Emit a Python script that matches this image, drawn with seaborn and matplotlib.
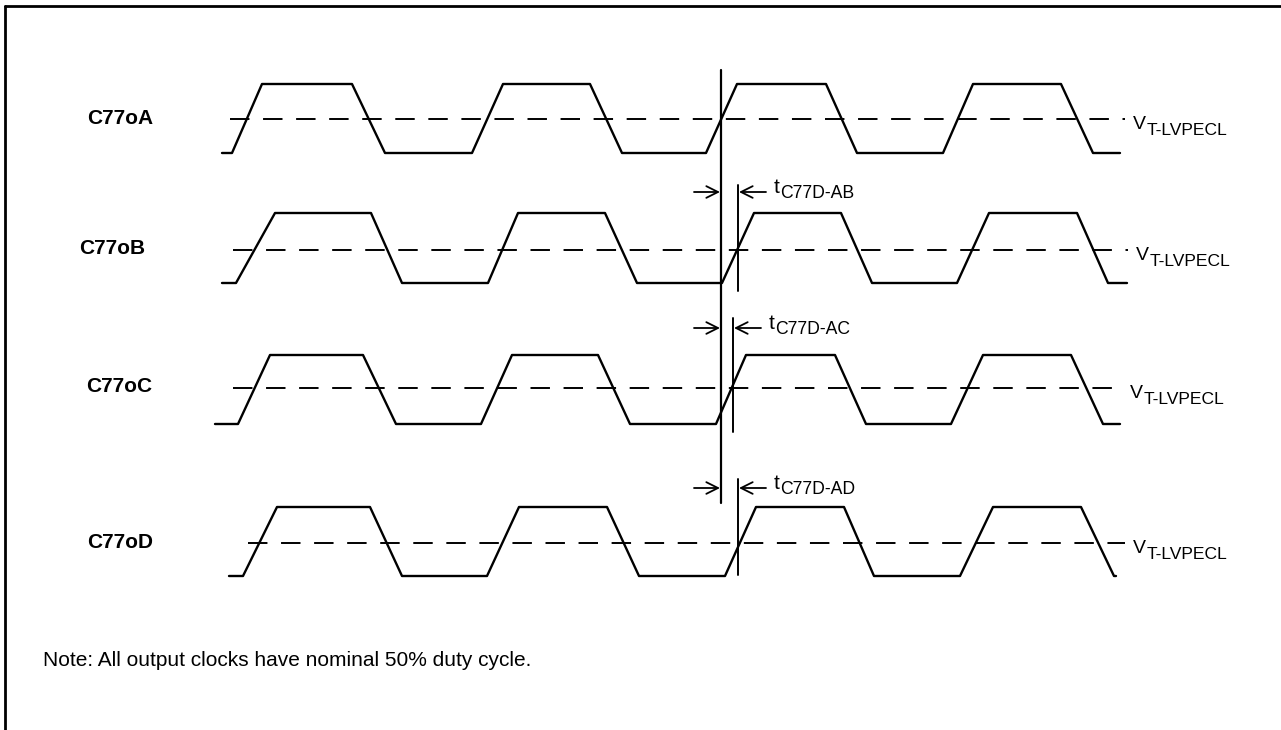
import numpy as np
import pandas as pd
import matplotlib
matplotlib.use('Agg')
import matplotlib.pyplot as plt
import seaborn as sns

# waveform data: vertex x positions for each output clock (pattern L L H H L L ...)
channels = ['C77oA', 'C77oB', 'C77oC', 'C77oD']
edges = {
    'C77oA': [222, 232, 262, 352, 385, 472, 503, 590, 622, 706, 737, 826, 857, 943, 973, 1061, 1093, 1120],
    'C77oB': [222, 236, 275, 371, 402, 488, 518, 605, 637, 722, 754, 841, 872, 957, 989, 1077, 1108, 1127],
    'C77oC': [215, 238, 270, 363, 396, 481, 512, 598, 630, 716, 746, 835, 866, 951, 983, 1071, 1103, 1120],
    'C77oD': [229, 243, 277, 370, 402, 487, 519, 607, 639, 725, 756, 844, 874, 960, 993, 1081, 1114, 1116],
}
high_level = [84, 213, 355, 507]
low_level = [153, 283, 424, 576]
threshold = [119, 250, 388, 543]
thresh_start = [230, 233, 233, 248]
thresh_end = [1125, 1128, 1122, 1125]
label_x = [87, 79, 86, 87]

# skew markers
ref_x, ref_top, ref_bottom = 721, 70, 503
skew_x = [738, 733, 738]
skew_top = [185, 318, 479]
skew_bottom = [291, 432, 575]
skew_arrow_y = [192, 328, 488]
skew_names = ['C77D-AB', 'C77D-AC', 'C77D-AD']

note = 'Note: All output clocks have nominal 50% duty cycle.'

rows = []
for i, ch in enumerate(channels):
    for k, x in enumerate(edges[ch]):
        state = (k // 2) % 2  # 0 low, 1 high
        rows.append({'channel': ch, 'x': x, 'y': high_level[i] if state else low_level[i]})
df = pd.DataFrame(rows)

sns.set_theme(style='white')
plt.rcParams['font.family'] = ['Liberation Sans', 'DejaVu Sans']
plt.rcParams['text.color'] = 'black'

fig = plt.figure(figsize=(12.81, 7.30), dpi=100)
ax = fig.add_axes([0, 0, 1, 1])
ax.set_xlim(0, 1281)
ax.set_ylim(730, 0)
ax.axis('off')

sns.lineplot(data=df, x='x', y='y', units='channel', estimator=None, sort=False,
             color='black', linewidth=1.7, ax=ax, legend=False)

for i, ch in enumerate(channels):
    ax.plot([thresh_start[i], thresh_end[i]], [threshold[i]] * 2, color='black',
            linewidth=1.4, dashes=(10, 7))
    ax.text(label_x[i], threshold[i] - 1, ch, fontsize=15, fontweight='bold',
            ha='left', va='center', color='black')
    ax.text(thresh_end[i] + 8, threshold[i] + 10, 'V', fontsize=14, ha='left', va='baseline', color='black')
    ax.text(thresh_end[i] + 22, threshold[i] + 16, 'T-LVPECL', fontsize=12.6, ha='left', va='baseline',
            color='black')

ax.plot([ref_x, ref_x], [ref_top, ref_bottom], color='black', linewidth=1.6)
for j in range(3):
    ax.plot([skew_x[j], skew_x[j]], [skew_top[j], skew_bottom[j]], color='black', linewidth=1.4)
    ay = skew_arrow_y[j]
    ax.annotate('', xy=(ref_x - 1, ay), xytext=(ref_x - 27, ay),
                arrowprops=dict(arrowstyle='->,head_length=0.7,head_width=0.35', color='black', lw=1.3,
                                shrinkA=0, shrinkB=0))
    ax.annotate('', xy=(skew_x[j] + 1, ay), xytext=(skew_x[j] + 28, ay),
                arrowprops=dict(arrowstyle='->,head_length=0.7,head_width=0.35', color='black', lw=1.3,
                                shrinkA=0, shrinkB=0))
    ax.text(skew_x[j] + 36, ay + 1, 't', fontsize=15, ha='left', va='baseline', color='black')
    ax.text(skew_x[j] + 42, ay + 6, skew_names[j], fontsize=12.7, ha='left', va='baseline', color='black')

ax.text(43, 660, note, fontsize=15, ha='left', va='center', color='black')

# frame (top and left edges)
ax.plot([5, 1281], [6, 6], color='black', linewidth=2)
ax.plot([5, 5], [6, 730], color='black', linewidth=2)

fig.savefig('out.png', dpi=100)
